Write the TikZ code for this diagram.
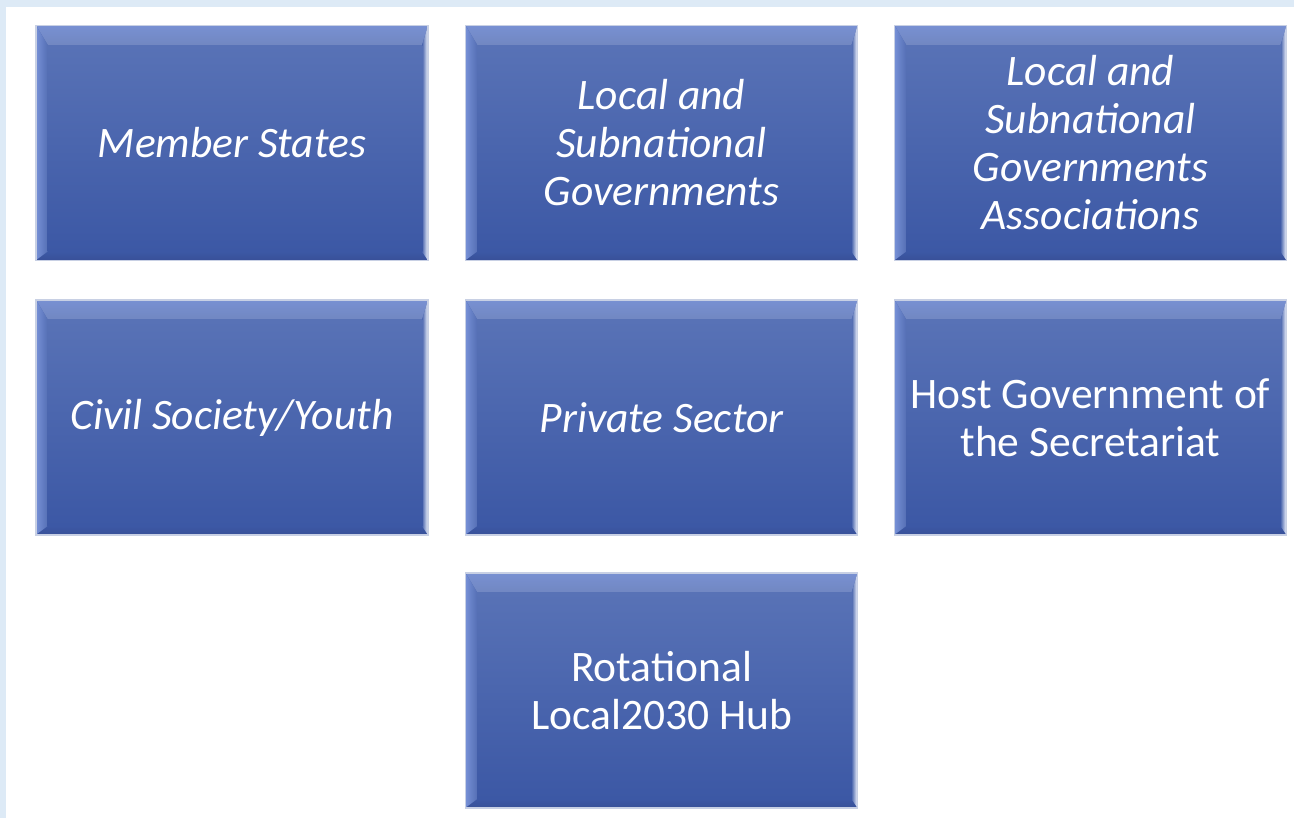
\documentclass[tikz,border=0pt]{standalone}
\usepackage{fontspec}
\setmainfont{Carlito}
\usetikzlibrary{calc}

\definecolor{pageblue}{RGB}{221,234,246}
\definecolor{tiletop}{RGB}{88,114,182}
\definecolor{tilebot}{RGB}{60,88,165}
\definecolor{tileedge}{RGB}{200,208,228}
\definecolor{bevlight}{RGB}{196,214,252}
\definecolor{bevmid}{RGB}{120,144,210}
\definecolor{bevside}{RGB}{118,144,214}
\definecolor{bevdark}{RGB}{56,80,152}
\definecolor{bevshine}{RGB}{244,248,255}

\newcommand{\tilefont}{\fontsize{43.5}{48}\selectfont}

\tikzset{
  tile/.style={minimum width=392pt, minimum height=235pt, inner sep=0pt,
    align=center, text=white, font=\tilefont,
    fill=tiletop, draw=tileedge, line width=1.2pt,
    path picture={
      \coordinate (nw) at (path picture bounding box.north west);
      \coordinate (ne) at (path picture bounding box.north east);
      \coordinate (sw) at (path picture bounding box.south west);
      \coordinate (se) at (path picture bounding box.south east);
      % bevel: top, left, bottom, right, then the face on top
      \fill[top color=bevmid, middle color=bevlight, bottom color=tiletop!85!white]
        (nw) -- (ne) -- ($(ne)+(-6pt,-20pt)$) -- ($(nw)+(12pt,-20pt)$) -- cycle;
      \fill[left color=bevside, right color=tiletop!85!tilebot]
        (nw) -- ($(nw)+(12pt,-20pt)$) -- ($(sw)+(12pt,9pt)$) -- (sw) -- cycle;
      \fill[top color=tilebot, bottom color=bevdark]
        (sw) -- ($(sw)+(12pt,9pt)$) -- ($(se)+(-6pt,9pt)$) -- (se) -- cycle;
      \fill[left color=tilebot!60!tiletop, right color=bevshine]
        (ne) -- ($(ne)+(-6pt,-20pt)$) -- ($(se)+(-6pt,9pt)$) -- (se) -- cycle;
      \fill[top color=tiletop, bottom color=tilebot]
        ($(nw)+(11.6pt,-19.6pt)$) rectangle ($(se)+(-5.6pt,8.6pt)$);
    }},
}

\begin{document}
\begin{tikzpicture}[x=1pt, y=-1pt]
    \useasboundingbox (0,0) rectangle (1294,818);
    \fill[pageblue] (0,0) rectangle (1294,818);
    \fill[white] (6,7) rectangle (1294,818);

    \node[tile] (member) at (232,143) {\itshape Member States};
    \node[tile] (local) at (661.5,143) {\itshape Local and\\\itshape Subnational\\\itshape Governments};
    \node[tile] (assoc) at (1090.5,143) {\itshape Local and\\\itshape Subnational\\\itshape Governments\\\itshape Associations};

    \node[tile] (civil) at (232,417.5) {\itshape Civil Society/Youth};
    \node[tile] (private) at (661.5,417.5) {\itshape Private Sector};
    \node[tile] (host) at (1090.5,417.5) {Host Government of\\the Secretariat};

    \node[tile] (hub) at (661.5,690.5) {Rotational\\Local2030 Hub};
\end{tikzpicture}
\end{document}
